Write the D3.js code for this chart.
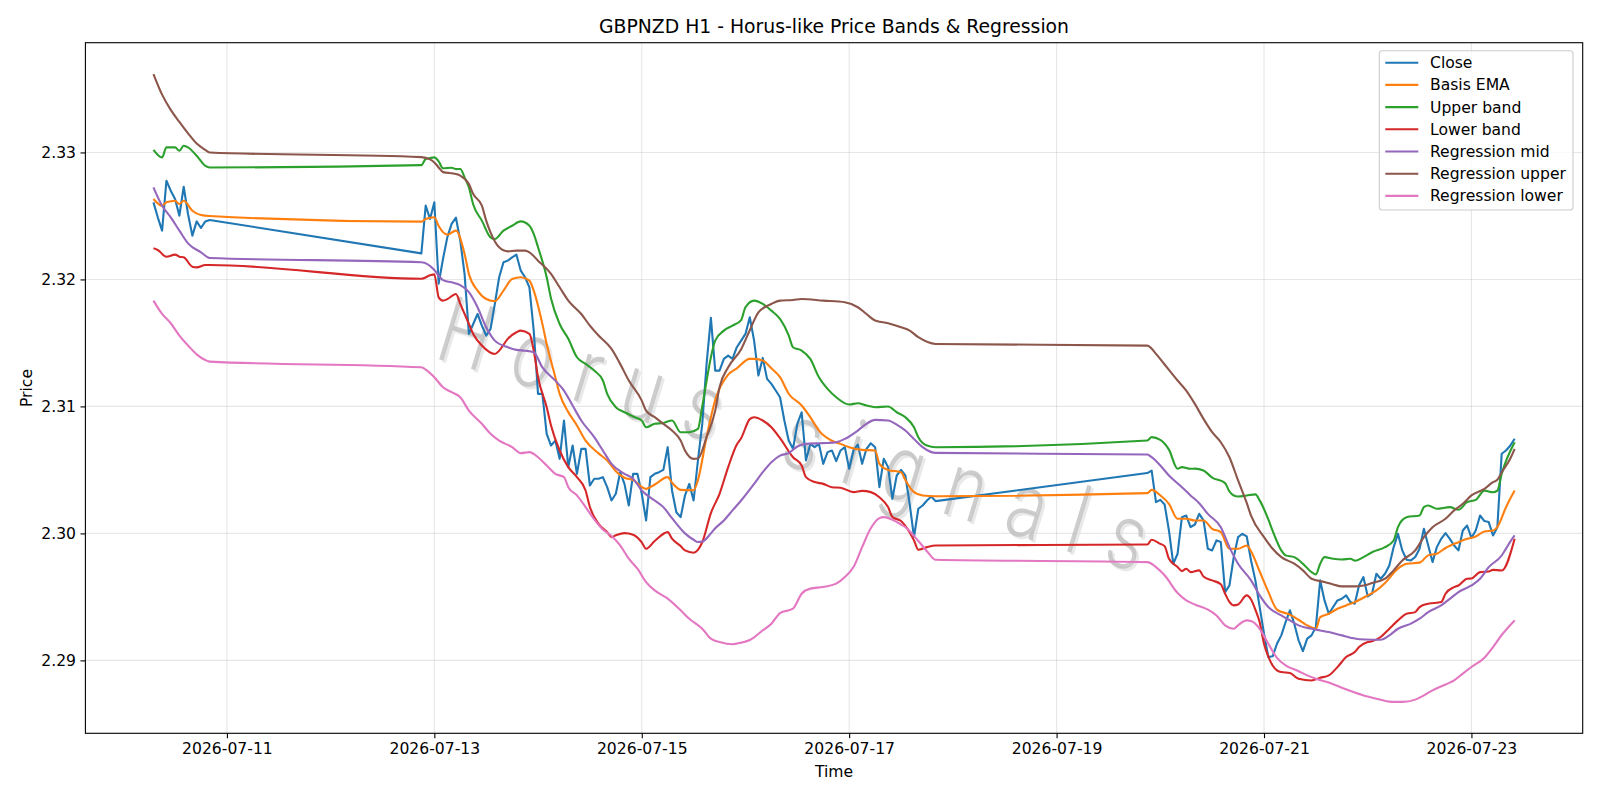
<!DOCTYPE html>
<html>
<head>
<meta charset="utf-8">
<script src="https://cdn.jsdelivr.net/npm/d3@7"></script>
<style>
	body { margin: 0; background: #fff; }
	svg { font-family: "DejaVu Sans", sans-serif; }
</style>
</head>
<body>
<svg id="chart" width="1600" height="800"></svg>
<script>
// hours are counted from 2026-07-10 00:00 (UTC)
const baseTime = Date.UTC(2026, 6, 10);
const sessions = [[7, 20], [69, 188], [237, 322]];

// hourly closes, one per hour of the sessions above
const closeValues = [
	2.32607, 2.32489, 2.32384, 2.32777, 2.32699, 2.32633, 2.32502, 2.32730, 2.32515, 2.32345, 2.32457, 2.32405, 2.32457, 2.32468,
	2.32205, 2.32581, 2.32476, 2.32607, 2.31967, 2.32161, 2.32331, 2.32437, 2.32486, 2.32305, 2.32042, 2.31571, 2.31649, 2.31728,
	2.31636, 2.31558, 2.31610, 2.31807, 2.32017, 2.32135, 2.32148, 2.32174, 2.32195, 2.32069, 2.32017, 2.31938, 2.31597, 2.31099,
	2.31099, 2.30784, 2.30692, 2.30731, 2.30587, 2.30889, 2.30522, 2.30692, 2.30469, 2.30666, 2.30666, 2.30377, 2.30430, 2.30430,
	2.30443, 2.30364, 2.30259, 2.30312, 2.30482, 2.30390, 2.30220, 2.30469, 2.30469, 2.30312, 2.30102, 2.30443, 2.30469, 2.30482,
	2.30500, 2.30679, 2.30338, 2.30167, 2.30128, 2.30298, 2.30390, 2.30259, 2.30574, 2.30862, 2.31335, 2.31697, 2.31282, 2.31282,
	2.31374, 2.31400, 2.31374, 2.31466, 2.31518, 2.31571, 2.31702, 2.31518, 2.31243, 2.31382, 2.31217, 2.31177, 2.31125, 2.31072,
	2.30889, 2.30732, 2.30666, 2.30863, 2.30954, 2.30574, 2.30705, 2.30679, 2.30705, 2.30548, 2.30640, 2.30653, 2.30569, 2.30653,
	2.30679, 2.30509, 2.30653, 2.30700, 2.30548, 2.30666, 2.30710, 2.30679, 2.30364, 2.30587, 2.30522, 2.30272, 2.30456, 2.30501,
	2.30456, 2.30233, 2.29971, 2.30194, 2.30220, 2.30259, 2.30291, 2.30254,
	2.30475, 2.30495, 2.30246, 2.30264, 2.30228, 2.30023, 2.29761, 2.29840, 2.30128, 2.30141, 2.30049, 2.30070, 2.30154, 2.30102,
	2.29879, 2.29866, 2.29945, 2.29932, 2.29538, 2.29591, 2.29814, 2.29971, 2.29997, 2.29976, 2.29787, 2.29630, 2.29420, 2.29210,
	2.29026, 2.29032, 2.29131, 2.29197, 2.29302, 2.29394, 2.29289, 2.29158, 2.29073, 2.29171, 2.29197, 2.29263, 2.29630, 2.29472,
	2.29367, 2.29420, 2.29472, 2.29485, 2.29512, 2.29459, 2.29446, 2.29591, 2.29656, 2.29504, 2.29525, 2.29682, 2.29643, 2.29682,
	2.29748, 2.29892, 2.29997, 2.29866, 2.29793, 2.29787, 2.29814, 2.29879, 2.30036, 2.29905, 2.29774, 2.29892, 2.29957, 2.30002,
	2.29957, 2.29905, 2.29866, 2.30023, 2.30062, 2.29965, 2.30023, 2.30141, 2.30097, 2.30089, 2.29984, 2.30049, 2.30627, 2.30653,
	2.30692, 2.30745
];

// the smoother series, read as [hour, value] knots
const emaPts = [
	[7, 2.32633], [9, 2.32580], [10, 2.32607], [12, 2.32620], [13, 2.32594], [14, 2.32620], [16, 2.32541], [18, 2.32507], [20, 2.32499],
	[69, 2.32455], [70, 2.32476], [72, 2.32490], [73, 2.32420], [75, 2.32352], [77, 2.32384], [79, 2.32200], [80, 2.32043], [82, 2.31912],
	[84, 2.31846], [86, 2.31828], [88, 2.31912], [90, 2.32003], [92, 2.32017], [94, 2.31990], [95, 2.31912], [97, 2.31650], [98, 2.31492],
	[100, 2.31230], [101, 2.31099], [103, 2.30955], [105, 2.30850], [107, 2.30731], [110, 2.30630], [112, 2.30574], [114, 2.30490],
	[116, 2.30438], [118, 2.30420], [121, 2.30351], [123, 2.30385], [126, 2.30443], [127, 2.30400], [129, 2.30343], [132, 2.30340],
	[133, 2.30420], [135, 2.30758], [137, 2.31050], [140, 2.31250], [142, 2.31300], [145, 2.31374], [146, 2.31374], [148, 2.31361],
	[150, 2.31300], [152, 2.31230], [154, 2.31100], [157, 2.31007], [159, 2.30915], [161, 2.30810], [164, 2.30730], [166, 2.30705],
	[168, 2.30679], [171, 2.30658], [174, 2.30653], [175, 2.30548], [177, 2.30500], [180, 2.30482], [181, 2.30420], [183, 2.30325],
	[185, 2.30299], [188, 2.30293],
	[237, 2.30317], [238, 2.30343], [240, 2.30299], [242, 2.30233], [244, 2.30115], [246, 2.30115], [248, 2.30102], [250, 2.30102],
	[252, 2.30036], [254, 2.30010], [256, 2.29879], [258, 2.29879], [260, 2.29905], [261, 2.29860], [263, 2.29700], [265, 2.29540],
	[267, 2.29400], [270, 2.29360], [272, 2.29320], [274, 2.29276], [276, 2.29249], [277, 2.29341], [279, 2.29367], [281, 2.29407],
	[283, 2.29433], [285, 2.29459], [288, 2.29512], [290, 2.29551], [292, 2.29610], [295, 2.29722], [297, 2.29761], [300, 2.29770],
	[302, 2.29827], [304, 2.29840], [306, 2.29885], [309, 2.29931], [311, 2.29957], [313, 2.29976], [315, 2.30015], [317, 2.30023],
	[318, 2.30050], [320, 2.30206], [322, 2.30337]
];

const upperPts = [
	[7, 2.33021], [9, 2.32961], [10, 2.33040], [12, 2.33040], [13, 2.33013], [14, 2.33053], [15, 2.33040], [17, 2.32974], [19, 2.32895], [20, 2.32882],
	[69, 2.32900], [70, 2.32948], [71, 2.32956], [72, 2.32961], [73, 2.32930], [74, 2.32875], [76, 2.32880], [77, 2.32869], [78, 2.32870],
	[79, 2.32803], [80, 2.32725], [81, 2.32590], [83, 2.32463], [85, 2.32331], [86, 2.32318], [88, 2.32384], [90, 2.32423], [92, 2.32457],
	[94, 2.32423], [95, 2.32358], [96, 2.32253], [98, 2.32017], [99, 2.31850], [101, 2.31649], [103, 2.31532], [105, 2.31387], [107, 2.31335],
	[109, 2.31282], [111, 2.31204], [112, 2.31099], [114, 2.30994], [116, 2.30954], [118, 2.30920], [120, 2.30889], [121, 2.30836],
	[123, 2.30863], [125, 2.30870], [127, 2.30889], [129, 2.30797], [131, 2.30797], [133, 2.30823], [134, 2.31000], [135, 2.31200],
	[136, 2.31387], [137, 2.31518], [139, 2.31597], [141, 2.31636], [143, 2.31680], [144, 2.31781], [146, 2.31833], [148, 2.31807],
	[150, 2.31754], [152, 2.31689], [154, 2.31560], [155, 2.31466], [157, 2.31440], [159, 2.31374], [161, 2.31230], [163, 2.31138],
	[165, 2.31072], [168, 2.31015], [170, 2.31025], [172, 2.31007], [174, 2.30994], [177, 2.30999], [179, 2.30954], [181, 2.30915],
	[183, 2.30836], [184, 2.30758], [186, 2.30692], [188, 2.30679],
	[237, 2.30732], [238, 2.30758], [240, 2.30737], [242, 2.30660], [244, 2.30509], [245, 2.30522], [247, 2.30509], [248, 2.30510],
	[250, 2.30495], [252, 2.30440], [255, 2.30396], [256, 2.30330], [257, 2.30299], [258, 2.30291], [260, 2.30299], [262, 2.30307],
	[263, 2.30260], [265, 2.30110], [266, 2.30020], [268, 2.29866], [269, 2.29827], [271, 2.29813], [273, 2.29761], [275, 2.29695],
	[276, 2.29677], [277, 2.29761], [278, 2.29813], [280, 2.29800], [282, 2.29795], [284, 2.29800], [285, 2.29785], [287, 2.29813],
	[289, 2.29852], [292, 2.29892], [294, 2.29944], [295, 2.30050], [297, 2.30128], [300, 2.30141], [301, 2.30207], [302, 2.30220],
	[304, 2.30194], [307, 2.30207], [309, 2.30186], [311, 2.30246], [313, 2.30264], [315, 2.30337], [317, 2.30324], [318, 2.30337],
	[319, 2.30469], [322, 2.30718]
];

const lowerPts = [
	[7, 2.32245], [8, 2.32232], [10, 2.32179], [12, 2.32195], [13, 2.32179], [14, 2.32174], [16, 2.32100], [17, 2.32095], [19, 2.32114], [20, 2.32114],
	[69, 2.32005], [71, 2.32032], [72, 2.32040], [73, 2.31859], [74, 2.31833], [75, 2.31845], [77, 2.31885], [78, 2.31807], [80, 2.31649],
	[81, 2.31571], [83, 2.31479], [86, 2.31413], [87, 2.31439], [89, 2.31532], [91, 2.31584], [92, 2.31597], [94, 2.31571], [95, 2.31439],
	[96, 2.31230], [98, 2.30994], [99, 2.30850], [101, 2.30653], [103, 2.30522], [105, 2.30443], [107, 2.30338], [108, 2.30207],
	[110, 2.30076], [112, 2.30010], [113, 2.29971], [114, 2.29985], [116, 2.30002], [118, 2.29990], [120, 2.29930], [121, 2.29879],
	[123, 2.29940], [126, 2.30010], [127, 2.29958], [129, 2.29900], [130, 2.29866], [132, 2.29848], [133, 2.29870], [134, 2.29930],
	[136, 2.30160], [138, 2.30312], [140, 2.30522], [142, 2.30700], [143, 2.30750], [145, 2.30900], [146, 2.30915], [148, 2.30889],
	[150, 2.30836], [152, 2.30750], [155, 2.30600], [157, 2.30535], [158, 2.30443], [160, 2.30404], [162, 2.30390], [164, 2.30364],
	[166, 2.30360], [169, 2.30325], [171, 2.30335], [173, 2.30325], [175, 2.30285], [177, 2.30207], [178, 2.30130], [180, 2.30097],
	[181, 2.30060], [183, 2.29945], [184, 2.29871], [186, 2.29892], [188, 2.29905],
	[237, 2.29913], [238, 2.29950], [240, 2.29918], [241, 2.29900], [242, 2.29800], [244, 2.29735], [245, 2.29703], [246, 2.29722],
	[247, 2.29695], [249, 2.29709], [250, 2.29660], [252, 2.29630], [254, 2.29600], [255, 2.29525], [256, 2.29460], [257, 2.29433],
	[258, 2.29440], [260, 2.29512], [261, 2.29480], [262, 2.29400], [263, 2.29300], [264, 2.29131], [265, 2.29030], [266, 2.28960],
	[267, 2.28921], [268, 2.28908], [270, 2.28900], [272, 2.28855], [275, 2.28842], [277, 2.28863], [279, 2.28882], [281, 2.28947],
	[283, 2.29026], [285, 2.29066], [286, 2.29105], [288, 2.29144], [289, 2.29150], [291, 2.29184], [293, 2.29249], [295, 2.29315],
	[297, 2.29367], [299, 2.29380], [300, 2.29420], [302, 2.29446], [305, 2.29459], [306, 2.29525], [308, 2.29577], [309, 2.29590],
	[311, 2.29643], [312, 2.29645], [314, 2.29695], [316, 2.29700], [317, 2.29713], [319, 2.29708], [322, 2.29958]
];

const regMidPts = [
	[7, 2.32725], [9, 2.32580], [11, 2.32489], [13, 2.32384], [15, 2.32284], [18, 2.32213], [20, 2.32169],
	[69, 2.32135], [72, 2.32074], [73, 2.32030], [74, 2.31995], [76, 2.31977], [78, 2.31955], [80, 2.31900], [82, 2.31781], [84, 2.31623],
	[86, 2.31518], [89, 2.31466], [91, 2.31445], [93, 2.31439], [95, 2.31426], [97, 2.31308], [100, 2.31203], [102, 2.31125],
	[104, 2.31007], [106, 2.30889], [109, 2.30758], [111, 2.30653], [113, 2.30548], [116, 2.30469], [118, 2.30430], [120, 2.30338],
	[123, 2.30259], [125, 2.30207], [127, 2.30120], [130, 2.30000], [132, 2.29950], [133, 2.29932], [134, 2.29935], [136, 2.30000],
	[137, 2.30040], [139, 2.30102], [141, 2.30181], [143, 2.30259], [146, 2.30390], [148, 2.30482], [150, 2.30561], [152, 2.30613],
	[154, 2.30632], [156, 2.30684], [158, 2.30705], [161, 2.30710], [163, 2.30712], [165, 2.30718], [167, 2.30744], [170, 2.30810],
	[172, 2.30863], [174, 2.30894], [177, 2.30889], [179, 2.30857], [181, 2.30810], [183, 2.30744], [185, 2.30679], [187, 2.30640],
	[188, 2.30634],
	[237, 2.30621], [238, 2.30600], [240, 2.30535], [242, 2.30456], [245, 2.30364], [247, 2.30299], [249, 2.30238], [251, 2.30154],
	[254, 2.30049], [256, 2.29892], [258, 2.29761], [261, 2.29630], [263, 2.29512], [265, 2.29420], [268, 2.29354], [270, 2.29315],
	[272, 2.29276], [275, 2.29249], [277, 2.29236], [279, 2.29223], [282, 2.29197], [284, 2.29179], [286, 2.29166], [289, 2.29163],
	[291, 2.29163], [293, 2.29197], [295, 2.29249], [298, 2.29289], [300, 2.29328], [302, 2.29380], [305, 2.29433], [307, 2.29485],
	[309, 2.29538], [312, 2.29590], [314, 2.29643], [316, 2.29734], [319, 2.29826], [320, 2.29880], [321, 2.29935], [322, 2.29984]
];

const regUpperPts = [
	[7, 2.33617], [9, 2.33455], [11, 2.33335], [13, 2.33240], [15, 2.33150], [17, 2.33070], [19, 2.33020], [20, 2.33000],
	[69, 2.32963], [71, 2.32945], [72, 2.32921], [73, 2.32882], [74, 2.32845], [77, 2.32830], [78, 2.32817], [80, 2.32751], [81, 2.32672],
	[83, 2.32581], [84, 2.32463], [85, 2.32371], [87, 2.32253], [89, 2.32221], [91, 2.32227], [93, 2.32227], [94, 2.32213], [96, 2.32148],
	[99, 2.32043], [101, 2.31938], [103, 2.31833], [106, 2.31728], [108, 2.31636], [110, 2.31558], [113, 2.31453], [115, 2.31335],
	[117, 2.31204], [120, 2.31046], [121, 2.30967], [123, 2.30915], [125, 2.30863], [127, 2.30810], [129, 2.30731], [130, 2.30653],
	[132, 2.30587], [133, 2.30590], [135, 2.30758], [137, 2.30967], [138, 2.31151], [140, 2.31308], [143, 2.31450], [145, 2.31600],
	[147, 2.31740], [150, 2.31807], [152, 2.31833], [155, 2.31838], [157, 2.31846], [162, 2.31833], [167, 2.31820], [170, 2.31781],
	[172, 2.31728], [174, 2.31676], [177, 2.31655], [180, 2.31623], [182, 2.31597], [184, 2.31545], [188, 2.31492],
	[237, 2.31479], [239, 2.31414], [241, 2.31330], [244, 2.31204], [246, 2.31125], [248, 2.31020], [250, 2.30902], [252, 2.30797],
	[254, 2.30718], [256, 2.30600], [258, 2.30417], [260, 2.30240], [261, 2.30140], [264, 2.29971], [266, 2.29879], [268, 2.29813],
	[271, 2.29761], [273, 2.29709], [275, 2.29643], [278, 2.29617], [280, 2.29598], [282, 2.29583], [285, 2.29583], [287, 2.29590],
	[289, 2.29609], [292, 2.29643], [294, 2.29709], [296, 2.29787], [299, 2.29866], [301, 2.29971], [303, 2.30049], [306, 2.30115],
	[308, 2.30181], [310, 2.30233], [312, 2.30299], [315, 2.30351], [317, 2.30403], [318, 2.30422], [319, 2.30480], [321, 2.30590],
	[322, 2.30666]
];

const regLowerPts = [
	[7, 2.31833], [9, 2.31728], [11, 2.31655], [13, 2.31558], [15, 2.31480], [17, 2.31410], [19, 2.31365], [20, 2.31353],
	[69, 2.31308], [70, 2.31290], [72, 2.31230], [74, 2.31151], [76, 2.31112], [78, 2.31072], [80, 2.30967], [83, 2.30863], [85, 2.30784],
	[87, 2.30731], [90, 2.30679], [92, 2.30632], [94, 2.30640], [96, 2.30600], [98, 2.30535], [100, 2.30469], [102, 2.30443],
	[103, 2.30364], [105, 2.30299], [107, 2.30207], [109, 2.30110], [111, 2.30030], [113, 2.29980], [115, 2.29906], [117, 2.29801],
	[119, 2.29722], [121, 2.29617], [123, 2.29551], [126, 2.29486], [129, 2.29394], [131, 2.29328], [134, 2.29250], [136, 2.29171],
	[138, 2.29145], [141, 2.29127], [143, 2.29140], [145, 2.29160], [148, 2.29237], [150, 2.29289], [152, 2.29373], [155, 2.29407],
	[157, 2.29525], [159, 2.29565], [162, 2.29578], [165, 2.29604], [167, 2.29656], [169, 2.29735], [171, 2.29892], [173, 2.30040],
	[175, 2.30120], [176, 2.30128], [178, 2.30107], [180, 2.30070], [181, 2.30049], [184, 2.29940], [186, 2.29860], [188, 2.29792],
	[237, 2.29774], [239, 2.29735], [241, 2.29670], [244, 2.29530], [246, 2.29473], [248, 2.29440], [251, 2.29400], [253, 2.29354],
	[255, 2.29276], [257, 2.29249], [258, 2.29276], [260, 2.29315], [261, 2.29310], [263, 2.29249], [265, 2.29131], [267, 2.29020],
	[269, 2.28961], [272, 2.28915], [274, 2.28882], [276, 2.28856], [279, 2.28825], [282, 2.28785], [285, 2.28748], [288, 2.28715],
	[291, 2.28690], [294, 2.28673], [296, 2.28673], [299, 2.28691], [301, 2.28725], [303, 2.28764], [306, 2.28810], [308, 2.28843],
	[310, 2.28896], [312, 2.28948], [315, 2.29020], [317, 2.29105], [319, 2.29200], [322, 2.29315]
];

const seriesNames = ["Close", "Basis EMA", "Upper band", "Lower band", "Regression mid", "Regression upper", "Regression lower"];
const xTickLabels = ["2026-07-11", "2026-07-13", "2026-07-15", "2026-07-17", "2026-07-19", "2026-07-21", "2026-07-23"];
const yTickValues = [2.29, 2.30, 2.31, 2.32, 2.33];

const colors = ["#1f77b4", "#ff7f0e", "#2ca02c", "#d62728", "#9467bd", "#8c564b", "#e377c2"];

function toDate(h) { return new Date(baseTime + h * 3600e3); }

// hourly close points from the sessions
let closePts = [];
for (let s of sessions) {
	for (let h = s[0]; h <= s[1]; h++) closePts.push([h, closeValues[closePts.length]]);
}

const series = [closePts, emaPts, upperPts, lowerPts, regMidPts, regUpperPts, regLowerPts].map(function (pts, i) {
	return { name: seriesNames[i], color: colors[i], smooth: i > 0, values: pts.map(p => ({ t: toDate(p[0]), v: p[1] })) };
});

const plotLeft = 85.4, plotRight = 1582.7, plotTop = 42.7, plotBottom = 733.3;
const labelSize = 15.6;

var svg = d3.select("#chart");

// matplotlib style 5% margins
let allPts = series.flatMap(s => s.values);
let tExt = d3.extent(allPts, d => d.t), vExt = d3.extent(allPts, d => d.v);
let tPad = (tExt[1] - tExt[0]) * 0.05, vPad = (vExt[1] - vExt[0]) * 0.05;

let x = d3.scaleUtc()
	.domain([new Date(+tExt[0] - tPad), new Date(+tExt[1] + tPad)])
	.range([plotLeft, plotRight]);
let y = d3.scaleLinear()
	.domain([vExt[0] - vPad, vExt[1] + vPad])
	.range([plotBottom, plotTop]);

const xTicks = xTickLabels.map(s => new Date(s + "T00:00:00Z"));

// grid
svg.append("g").selectAll("line")
	.data(xTicks)
	.join("line")
	.attr("x1", d => x(d)).attr("x2", d => x(d))
	.attr("y1", plotTop).attr("y2", plotBottom)
	.attr("stroke", "#b0b0b0").attr("stroke-opacity", 0.3).attr("stroke-width", 1.1);
svg.append("g").selectAll("line")
	.data(yTickValues)
	.join("line")
	.attr("x1", plotLeft).attr("x2", plotRight)
	.attr("y1", d => y(d)).attr("y2", d => y(d))
	.attr("stroke", "#b0b0b0").attr("stroke-opacity", 0.3).attr("stroke-width", 1.1);

// watermark, a light shadow then the grey text
let mark = svg.append("g").attr("font-family", "Roboto, 'DejaVu Sans', sans-serif").attr("font-weight", 300);
[[2.5, 2.5, "#e2e2e2"], [0, 0, "#bcbcbc"]].forEach(function (m) {
	mark.append("text")
		.attr("transform", `translate(${806 + m[0]},${438 + m[1]}) rotate(17) scale(0.85,1.1)`)
		.attr("text-anchor", "middle")
		.attr("dominant-baseline", "central")
		.attr("font-size", 84)
		.attr("letter-spacing", 30)
		.attr("fill", m[2])
		.attr("fill-opacity", 0.75)
		.text("Horus signals");
});

// lines
svg.append("g")
	.selectAll("path")
	.data(series)
	.join("path")
	.attr("fill", "none")
	.attr("stroke", d => d.color)
	.attr("stroke-width", 2.1)
	.attr("stroke-linejoin", "round")
	.attr("d", function (d) {
		return d3.line()
			.x(p => x(p.t))
			.y(p => y(p.v))
			.curve(d.smooth ? d3.curveMonotoneX : d3.curveLinear)(d.values);
	});

// axes
let xAxis = svg.append("g")
	.attr("transform", `translate(0,${plotBottom})`)
	.call(d3.axisBottom(x).tickValues(xTicks).tickFormat(d3.utcFormat("%Y-%m-%d")).tickSize(4.9).tickPadding(4.3));
let yAxis = svg.append("g")
	.attr("transform", `translate(${plotLeft},0)`)
	.call(d3.axisLeft(y).tickValues(yTickValues).tickFormat(d3.format(".2f")).tickSize(4.9).tickPadding(4.5));
for (let ax of [xAxis, yAxis]) {
	ax.select(".domain").remove();
	ax.selectAll("text").attr("font-size", labelSize).attr("font-family", "DejaVu Sans").attr("fill", "#000");
	ax.selectAll("line").attr("stroke", "#000").attr("stroke-width", 1.1);
}

svg.append("rect")
	.attr("x", plotLeft).attr("y", plotTop)
	.attr("width", plotRight - plotLeft).attr("height", plotBottom - plotTop)
	.attr("fill", "none").attr("stroke", "#000").attr("stroke-width", 1.1);

// titles
svg.append("text")
	.attr("x", (plotLeft + plotRight) / 2).attr("y", 33)
	.attr("text-anchor", "middle").attr("font-size", 18.8)
	.text("GBPNZD H1 - Horus-like Price Bands & Regression");
svg.append("text")
	.attr("x", (plotLeft + plotRight) / 2).attr("y", 777)
	.attr("text-anchor", "middle").attr("font-size", labelSize)
	.text("Time");
svg.append("text")
	.attr("transform", `translate(32,${(plotTop + plotBottom) / 2}) rotate(-90)`)
	.attr("text-anchor", "middle").attr("font-size", labelSize)
	.text("Price");

// legend
let legend = svg.append("g").attr("transform", "translate(1379.3,50.7)");
legend.append("rect")
	.attr("width", 193.7).attr("height", 159.3).attr("rx", 3)
	.attr("fill", "#fff").attr("fill-opacity", 0.8)
	.attr("stroke", "#cccccc").attr("stroke-width", 1.1);
let rows = legend.selectAll(".row")
	.data(series)
	.join("g")
	.attr("class", "row")
	.attr("transform", (d, i) => `translate(0,${12 + i * 22.2})`);
rows.append("line")
	.attr("x1", 6).attr("x2", 39)
	.attr("stroke", d => d.color).attr("stroke-width", 2.1);
rows.append("text")
	.attr("x", 50.7).attr("dy", "0.35em")
	.attr("font-size", labelSize)
	.text(d => d.name);
</script>
</body>
</html>
